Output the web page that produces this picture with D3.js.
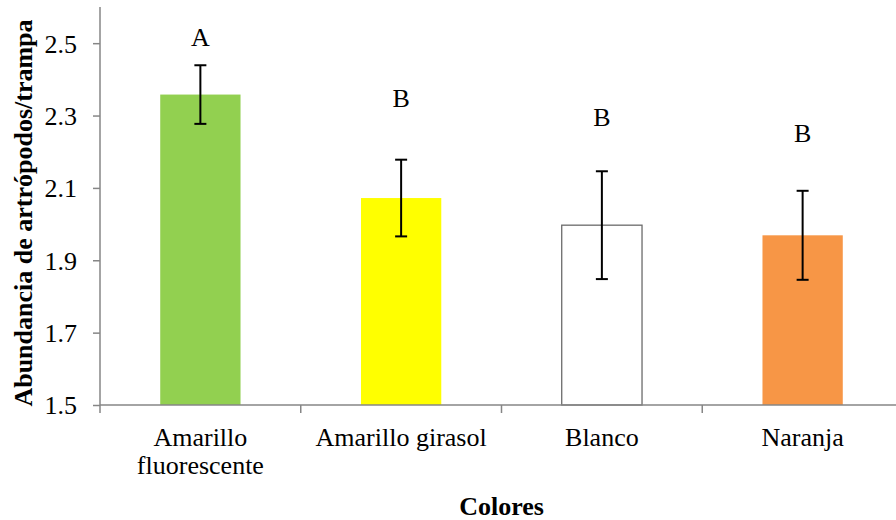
<!DOCTYPE html>
<html>
<head>
<meta charset="utf-8">
<script src="https://cdn.jsdelivr.net/npm/d3@7"></script>
<style>
  body { margin: 0; padding: 0; background: #fff; }
  text { font-family: "Liberation Serif", "Times New Roman", serif; fill: #000; }
</style>
</head>
<body>
<script>
// data
var categories = ["Amarillo fluorescente", "Amarillo girasol", "Blanco", "Naranja"];
var catLines = [["Amarillo", "fluorescente"], ["Amarillo girasol"], ["Blanco"], ["Naranja"]];
var means = [2.358, 2.072, 1.997, 1.969];
var errors = [0.081, 0.106, 0.149, 0.123];
var letters = ["A", "B", "B", "B"];
var letterAt = [2.493, 2.325, 2.272, 2.226];   // baseline of the letter, in data units
var yTicks = [1.5, 1.7, 1.9, 2.1, 2.3, 2.5];
var fills = ["#92d050", "#ffff00", "#ffffff", "#f79646"];

var width = 896, height = 520;
var plotLeft = 100, plotRight = 903, plotBottom = 405, plotTop = 7;
var serif = '"Liberation Serif", "Times New Roman", serif';

var svg = d3.select("body").append("svg")
  .attr("width", width)
  .attr("height", height);

var x = d3.scaleBand()
  .domain(categories)
  .range([plotLeft, plotRight])
  .paddingInner(0.6)
  .paddingOuter(0.3);

var y = d3.scaleLinear()
  .domain([1.5, 2.6])
  .range([plotBottom, plotTop]);

// bars
svg.selectAll("rect.bar").data(categories)
  .enter().append("rect")
    .attr("class", "bar")
    .attr("x", function(d) { return x(d); })
    .attr("y", function(d, i) { return y(means[i]); })
    .attr("width", x.bandwidth())
    .attr("height", function(d, i) { return plotBottom - y(means[i]); })
    .style("fill", function(d, i) { return fills[i]; })
    .style("stroke", function(d, i) { return fills[i] == "#ffffff" ? "#6b6b6b" : "none"; })
    .style("stroke-width", 1.3);

// error bars
var eb = svg.selectAll("g.err").data(categories)
  .enter().append("g")
    .attr("class", "err")
    .attr("transform", function(d) { return "translate(" + (x(d) + x.bandwidth() / 2) + ",0)"; });

eb.append("line")
  .attr("x1", 0).attr("x2", 0)
  .attr("y1", function(d, i) { return y(means[i] + errors[i]); })
  .attr("y2", function(d, i) { return y(means[i] - errors[i]); });
eb.append("line")
  .attr("x1", -6).attr("x2", 6)
  .attr("y1", function(d, i) { return y(means[i] + errors[i]); })
  .attr("y2", function(d, i) { return y(means[i] + errors[i]); });
eb.append("line")
  .attr("x1", -6).attr("x2", 6)
  .attr("y1", function(d, i) { return y(means[i] - errors[i]); })
  .attr("y2", function(d, i) { return y(means[i] - errors[i]); });
eb.selectAll("line").style("stroke", "#000").style("stroke-width", 2);

// significance letters
svg.selectAll("text.letter").data(categories)
  .enter().append("text")
    .attr("class", "letter")
    .attr("x", function(d) { return x(d) + x.bandwidth() / 2; })
    .attr("y", function(d, i) { return y(letterAt[i]); })
    .attr("text-anchor", "middle")
    .style("font-family", serif)
    .style("font-size", "26px")
    .text(function(d, i) { return letters[i]; });

// y axis
var yAxis = svg.append("g")
  .attr("transform", "translate(" + plotLeft + ",0)")
  .call(d3.axisLeft(y).tickValues(yTicks).tickSize(7).tickPadding(16).tickFormat(d3.format(".1f")));
yAxis.attr("font-family", null);
yAxis.select(".domain").attr("d", "M0," + plotTop + "V" + plotBottom);
yAxis.selectAll("line, .domain").style("stroke", "#868686").style("stroke-width", 1.5);
yAxis.selectAll("text")
  .style("font-family", serif)
  .style("font-size", "26px")
  .attr("dy", "0.34em");

// x axis: line plus ticks on the band boundaries
var step = x.step();
var xTicks = d3.range(categories.length + 1).map(function(i) { return plotLeft + i * step; });
svg.append("line")
  .attr("x1", plotLeft).attr("x2", width)
  .attr("y1", plotBottom).attr("y2", plotBottom)
  .style("stroke", "#868686").style("stroke-width", 1.5);
svg.selectAll("line.xtick").data(xTicks)
  .enter().append("line")
    .attr("class", "xtick")
    .attr("x1", function(d) { return d; }).attr("x2", function(d) { return d; })
    .attr("y1", plotBottom).attr("y2", plotBottom + 8)
    .style("stroke", "#868686").style("stroke-width", 1.5);

// category labels
var cl = svg.selectAll("text.cat").data(categories)
  .enter().append("text")
    .attr("class", "cat")
    .attr("text-anchor", "middle")
    .style("font-family", serif)
    .style("font-size", "26px")
    .attr("transform", function(d) { return "translate(" + (x(d) + x.bandwidth() / 2) + ",446)"; });
cl.selectAll("tspan").data(function(d, i) { return catLines[i]; })
  .enter().append("tspan")
    .attr("x", 0)
    .attr("dy", function(d, i) { return i == 0 ? 0 : 28; })
    .text(function(d) { return d; });

// axis titles
svg.append("text")
  .attr("x", (plotLeft + plotRight) / 2)
  .attr("y", 515)
  .attr("text-anchor", "middle")
  .style("font-family", serif)
  .style("font-size", "26px")
  .style("font-weight", "bold")
  .text("Colores");

svg.append("text")
  .attr("transform", "translate(32,213) rotate(-90)")
  .attr("text-anchor", "middle")
  .style("font-family", serif)
  .style("font-size", "26px")
  .style("font-weight", "bold")
  .text("Abundancia de artrópodos/trampa");
</script>
</body>
</html>
